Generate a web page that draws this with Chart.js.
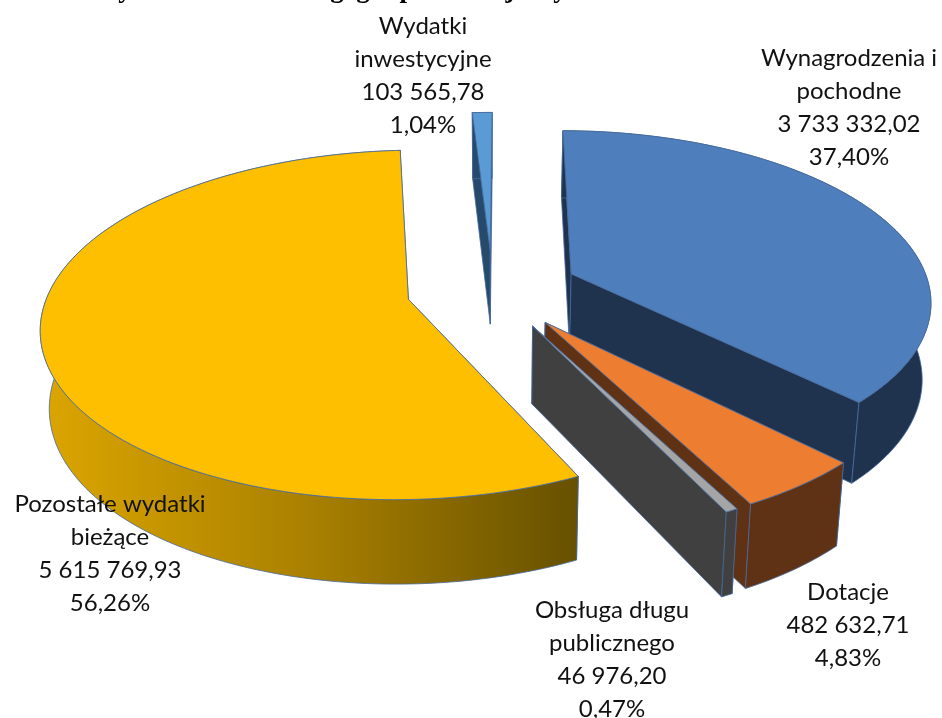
<!DOCTYPE html>
<html><head><meta charset="utf-8">
<style>html,body{margin:0;padding:0;background:#fff}canvas{display:block}</style>
<script src="https://cdn.jsdelivr.net/npm/chart.js@4"></script>
</head><body><canvas id="c" width="942" height="718"></canvas>
<script>
const categories = [["Wynagrodzenia i","pochodne"],["Dotacje"],["Obsługa długu","publicznego"],["Pozostałe wydatki","bieżące"],["Wydatki","inwestycyjne"]];
const seriesValues = [3733332.02,482632.71,46976.20,5615769.93,103565.78];
const topColors = ["#4e7ebb","#ed7d31","#a5a5a5","#fdbf00","#5b9bd5"];
const wallColors = ["#1f334f","#5f3115","#404040","#b08500","#254a6c"];
const labelCenters = [[849,58],[848,592],[612,610],[110,504],[423,26]];
const titleFragments = [["y",125],["g",337],["g",363],["p",407],["j",510],["y",560]];
const drawOrder = [4,0,1,2,3];
const cfg = {cx:492.5,cy:289,rx:359,ry:168,k:0.145,h0:76,h1:8,conv:0.02,lh:33};

function fmt(v){
  const [a,b]=v.toFixed(2).split('.');
  return a.replace(/\B(?=(\d{3})+$)/g,' ')+','+b;
}
const total = seriesValues.reduce((a,b)=>a+b,0);

const pie3d = {
  id:'pie3d',
  beforeDatasetDraw(chart){
    const ctx=chart.ctx, arcs=chart.getDatasetMeta(0).data;
    const proj=(u,v)=>{const w=1/(1-cfg.k*v);return {x:cfg.cx+cfg.rx*u*w,y:cfg.cy+cfg.ry*v*w,v};};
    const low=p=>({x:p.x-cfg.conv*(p.x-cfg.cx),y:p.y+cfg.h0+cfg.h1*p.v});
    const poly=(pts,fill)=>{
      ctx.beginPath();pts.forEach((p,i)=>i?ctx.lineTo(p.x,p.y):ctx.moveTo(p.x,p.y));ctx.closePath();
      ctx.fillStyle=fill;ctx.fill();
      ctx.lineWidth=0.8;ctx.strokeStyle='#46699c';ctx.stroke();
    };
    drawOrder.forEach(i=>{
      const a=arcs[i];
      const s=a.startAngle+Math.PI/2,e=a.endAngle+Math.PI/2,m=(s+e)/2;
      const d=a.options.offset/a.outerRadius;
      const ou=Math.sin(m)*d,ov=-Math.cos(m)*d;
      const n=Math.max(2,Math.ceil((e-s)*180/Math.PI));
      const rim=[];
      for(let j=0;j<=n;j++){const t=s+(e-s)*j/n;rim.push(proj(Math.sin(t)+ou,-Math.cos(t)+ov));}
      const apex=proj(ou,ov);
      let wall=wallColors[i];
      if(i===3){
        const g=ctx.createLinearGradient(41,0,580,0);
        g.addColorStop(0,'#dca600');g.addColorStop(0.5,'#a98000');g.addColorStop(1,'#665000');
        wall=g;
      }
      poly([apex,rim[0],low(rim[0]),low(apex)],wall);
      poly([apex,rim[n],low(rim[n]),low(apex)],wall);
      poly(rim.concat(rim.slice().reverse().map(low)),wall);
      poly([apex].concat(rim),topColors[i]);
    });
    return false;
  },
  afterDraw(chart){
    const ctx=chart.ctx;
    ctx.save();
    ctx.fillStyle='#000';ctx.textBaseline='alphabetic';ctx.textAlign='center';
    ctx.font='bold 27px "Liberation Serif"';
    titleFragments.forEach(([t,x])=>ctx.fillText(t,x,-3));
    ctx.fillStyle='#111';ctx.textBaseline='middle';
    ctx.font='24px Lato';
    categories.forEach((lines,i)=>{
      const all=lines.concat([fmt(seriesValues[i]),(seriesValues[i]/total*100).toFixed(2).replace('.',',')+'%']);
      all.forEach((t,j)=>ctx.fillText(t,labelCenters[i][0],labelCenters[i][1]+j*cfg.lh));
    });
    ctx.restore();
  }
};

new Chart(document.getElementById('c'),{
  type:'pie',
  data:{labels:categories.map(l=>l.join(' ')),datasets:[{data:seriesValues,backgroundColor:topColors,offset:72,radius:300}]},
  options:{responsive:false,animation:false,rotation:0.3,radius:300,
    plugins:{legend:{display:false},tooltip:{enabled:false}},events:[]},
  plugins:[pie3d]
});
</script></body></html>
